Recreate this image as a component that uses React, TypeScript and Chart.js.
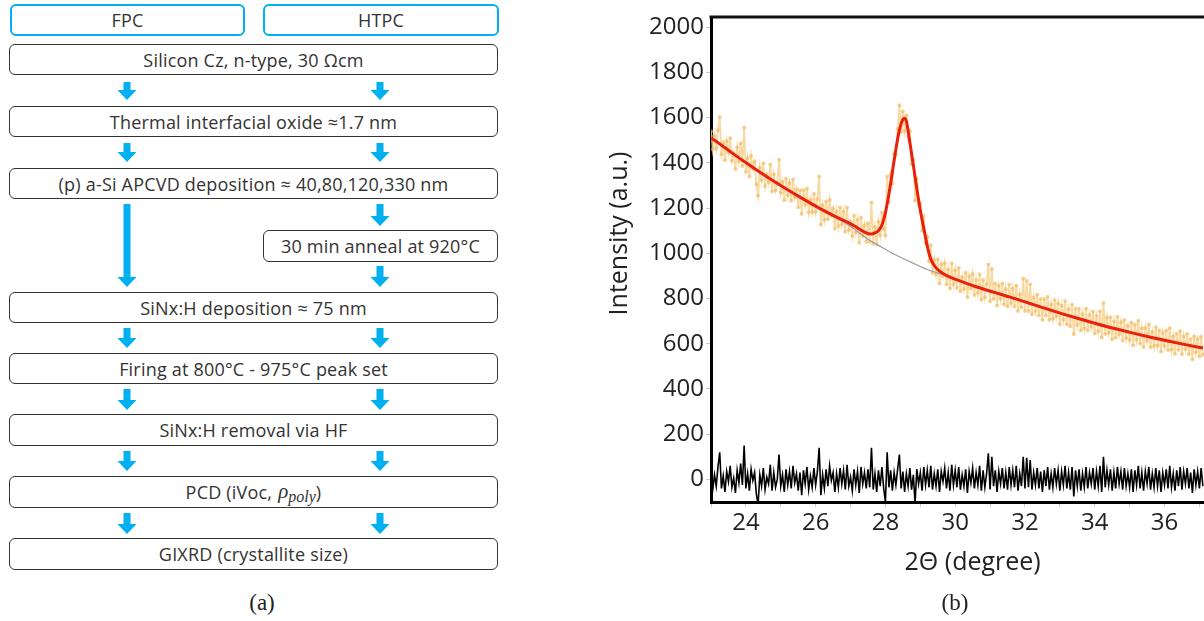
import React, { useEffect, useRef } from 'react';
import { Chart, registerables } from 'chart.js';

Chart.register(...registerables);

// ---------- XRD data (panel b) ----------
const X_START = 22.9;
const X_STEP = 0.05;
const X_MIN = 22.9;
const X_MAX = 37.9;
const Y_MIN = -100;
const Y_MAX = 2045;
const Y_STEP = 200;
const X_STEP_TICK = 1;

// measured counts (orange points)
const RAW_COUNTS = [
  1540, 1460, 1520, 1464, 1544, 1603, 1438, 1487, 1411, 1496,
  1445, 1510, 1409, 1444, 1373, 1468, 1407, 1487, 1386, 1556,
  1360, 1420, 1340, 1430, 1375, 1405, 1304, 1254, 1379, 1324,
  1398, 1298, 1348, 1313, 1393, 1273, 1348, 1279, 1309, 1414,
  1269, 1315, 1235, 1330, 1256, 1311, 1232, 1327, 1248, 1283,
  1204, 1279, 1174, 1280, 1215, 1286, 1181, 1237, 1183, 1263,
  1184, 1239, 1340, 1126, 1212, 1148, 1229, 1150, 1236, 1167,
  1198, 1109, 1185, 1121, 1202, 1128, 1184, 1095, 1202, 1103,
  1139, 1076, 1167, 1092, 1147, 1047, 1157, 1078, 1124, 1051,
  1133, 1051, 1225, 1042, 1115, 1039, 1140, 1080, 1180, 1108,
  1080, 1340, 1227, 1350, 1310, 1440, 1435, 1550, 1655, 1535,
  1627, 1542, 1610, 1515, 1540, 1395, 1410, 1233, 1330, 1217,
  1220, 1100, 1165, 1045, 1072, 965, 1035, 913, 971, 906,
  973, 866, 950, 900, 956, 862, 928, 844, 956, 863,
  925, 847, 935, 832, 894, 842, 914, 806, 898, 845,
  908, 815, 882, 825, 907, 795, 882, 805, 863, 950,
  788, 930, 798, 866, 768, 856, 799, 866, 774, 842,
  765, 862, 780, 843, 765, 858, 745, 818, 760, 888,
  745, 878, 745, 863, 730, 803, 745, 818, 725, 798,
  705, 798, 725, 808, 705, 773, 710, 793, 721, 778,
  686, 768, 706, 789, 686, 754, 677, 774, 642, 755,
  683, 755, 658, 731, 669, 756, 659, 727, 675, 743,
  645, 723, 656, 744, 627, 780, 643, 716, 649, 717,
  620, 698, 626, 719, 642, 695, 613, 706, 625, 678,
  616, 694, 592, 685, 618, 702, 600, 668, 586, 669,
  613, 686, 584, 652, 591, 674, 592, 660, 564, 647,
  590, 659, 572, 670, 574, 632, 555, 644, 572, 656,
  554, 632, 576, 644, 553, 621, 530, 633, 562, 620,
  544, 632, 551,
];

// residual (black trace)
const RESIDUAL = [
  30, -45, 20, -30, 55, 120, -40, 15, -55, 35,
  -10, 60, -35, 5, -60, 40, -15, 70, -25, 150,
  -40, 25, -50, 45, -5, 30, -65, -110, 20, -30,
  50, -45, 10, -20, 65, -50, 30, -35, 0, 110,
  -30, 20, -55, 45, -25, 35, -40, 60, -15, 25,
  -50, 30, -70, 40, -20, 55, -45, 15, -35, 50,
  -25, 35, 140, -70, 20, -40, 45, -30, 60, -5,
  30, -55, 25, -35, 50, -20, 40, -45, 65, -30,
  10, -50, 45, -25, 35, -60, 55, -20, 30, -40,
  45, -35, 140, -45, 25, -55, 40, -30, 55, -40,
  -100, 120, -35, 40, -50, 30, -25, 45, 110, -40,
  35, -55, 25, -30, 50, -45, 20, -105, 45, -20,
  30, -50, 55, -25, 40, -35, 60, -45, 25, -30,
  45, -55, 35, -10, 50, -40, 30, -50, 65, -25,
  40, -35, 55, -45, 20, -30, 45, -60, 35, -15,
  50, -40, 30, -25, 60, -50, 40, -35, 25, 115,
  -45, 100, -30, 40, -55, 35, -20, 50, -40, 30,
  -45, 55, -25, 40, -35, 60, -50, 25, -30, 100,
  -40, 95, -35, 85, -45, 30, -25, 50, -40, 35,
  -55, 40, -30, 55, -45, 25, -35, 50, -20, 40,
  -50, 35, -25, 60, -40, 30, -45, 55, -75, 40,
  -30, 45, -50, 25, -35, 55, -40, 30, -20, 50,
  -45, 35, -30, 60, -55, 100, -35, 40, -25, 45,
  -50, 30, -40, 55, -20, 35, -45, 50, -30, 25,
  -35, 45, -55, 40, -25, 60, -40, 30, -50, 35,
  -20, 55, -45, 25, -35, 50, -30, 40, -55, 30,
  -25, 45, -40, 60, -35, 25, -50, 40, -30, 55,
  -45, 35, -20, 50, -40, 30, -60, 45, -25, 35,
  -40, 50, -30,
];

// fitted profile (red)
const FIT_X = [
  22.9, 23.0, 23.5, 24.0, 24.5, 25.0, 25.5, 26.0, 26.5, 27.0, 27.3, 27.5, 27.6, 27.7,
  27.8, 27.9, 28.0, 28.1, 28.2, 28.3, 28.4, 28.45, 28.5, 28.6, 28.7, 28.8, 28.9, 29.0,
  29.1, 29.2, 29.3, 29.4, 29.6, 29.8, 30.0, 30.5, 31.0, 31.5, 32.0, 32.5, 33.0, 33.5,
  34.0, 34.5, 35.0, 35.5, 36.0, 36.5, 37.0,
];
const FIT_Y = [
  1510, 1500, 1444, 1390, 1338, 1290, 1244, 1200, 1160, 1122, 1094, 1085, 1090, 1100,
  1125, 1180, 1262, 1360, 1460, 1545, 1592, 1597, 1585, 1490, 1390, 1285, 1190, 1110,
  1032, 975, 946, 928, 906, 891, 880, 852, 828, 805, 780, 755, 731, 708,
  686, 666, 647, 629, 612, 596, 581,
];

// background (grey)
const BASE_X = [
  22.9, 23.5, 24.5, 25.5, 26.0, 26.5, 27.0, 27.4, 27.7, 28.2, 28.6, 29.1, 29.6, 30.0,
  30.5, 31.0, 32.0, 33.0, 34.0, 35.0, 36.0, 37.0,
];
const BASE_Y = [
  1510, 1444, 1338, 1244, 1200, 1157, 1108, 1062, 1035, 992, 963, 928, 903, 880,
  852, 828, 780, 731, 686, 647, 612, 581,
];

const Y_TITLE = 'Intensity (a.u.)';
const X_TITLE = '2\u0398 (degree)';

// ---------- flowchart text (panel a) ----------
const FLOW_HEADERS = ['FPC', 'HTPC'];
const FLOW_STEPS = [
  'Silicon Cz, n-type, 30 \u03A9cm',
  'Thermal interfacial oxide \u22481.7 nm',
  '(p) a-Si APCVD deposition \u2248 40,80,120,330 nm',
  '30 min anneal at 920\u00B0C',
  'SiNx:H deposition \u2248 75 nm',
  'Firing at 800\u00B0C - 975\u00B0C peak set',
  'SiNx:H removal via HF',
  'PCD (iVoc,',
  'GIXRD (crystallite size)',
];

const BLUE = '#00b0f0';
const TEXT_FONT = '"Open Sans", "DejaVu Sans", sans-serif';

function Box(props: { x: number; y: number; w: number; h: number; blue?: boolean; children: React.ReactNode }) {
  const { x, y, w, h, blue, children } = props;
  return (
    <div
      style={{
        position: 'absolute',
        left: x,
        top: y,
        width: w,
        height: h,
        boxSizing: 'border-box',
        border: blue ? `2px solid ${BLUE}` : '1px solid #333',
        borderRadius: 6,
        display: 'flex',
        alignItems: 'center',
        justifyContent: 'center',
        fontFamily: TEXT_FONT,
        fontSize: 18,
        letterSpacing: 0.2,
        color: '#333',
        background: '#fff',
        whiteSpace: 'nowrap',
      }}
    >
      {children}
    </div>
  );
}

function Arrow(props: { cx: number; y1: number; y2: number }) {
  const { cx, y1, y2 } = props;
  const h = y2 - y1;
  const head = 10;
  const pts = `6.5,0 13.5,0 13.5,${h - head} 19.5,${h - head} 10,${h} 0.5,${h - head} 6.5,${h - head}`;
  return (
    <svg style={{ position: 'absolute', left: cx - 10, top: y1 }} width={20} height={h}>
      <polygon points={pts} fill={BLUE} />
    </svg>
  );
}

function Flowchart() {
  const L = 127;
  const R = 380;
  return (
    <>
      <Box x={10} y={4} w={235} h={32} blue>{FLOW_HEADERS[0]}</Box>
      <Box x={263} y={4} w={236} h={32} blue>{FLOW_HEADERS[1]}</Box>
      <Box x={9} y={44} w={489} h={31}>{FLOW_STEPS[0]}</Box>
      <Arrow cx={L} y1={82} y2={100} />
      <Arrow cx={R} y1={82} y2={100} />
      <Box x={9} y={106} w={489} h={31}>{FLOW_STEPS[1]}</Box>
      <Arrow cx={L} y1={143} y2={162} />
      <Arrow cx={R} y1={143} y2={162} />
      <Box x={9} y={168} w={489} h={31}>{FLOW_STEPS[2]}</Box>
      <Arrow cx={L} y1={204} y2={287} />
      <Arrow cx={R} y1={204} y2={226} />
      <Box x={263} y={230} w={235} h={32}>{FLOW_STEPS[3]}</Box>
      <Arrow cx={R} y1={266} y2={287} />
      <Box x={9} y={292} w={489} h={31}>{FLOW_STEPS[4]}</Box>
      <Arrow cx={L} y1={328} y2={348} />
      <Arrow cx={R} y1={328} y2={348} />
      <Box x={9} y={353} w={489} h={31}>{FLOW_STEPS[5]}</Box>
      <Arrow cx={L} y1={389} y2={410} />
      <Arrow cx={R} y1={389} y2={410} />
      <Box x={9} y={414} w={489} h={32}>{FLOW_STEPS[6]}</Box>
      <Arrow cx={L} y1={451} y2={471} />
      <Arrow cx={R} y1={451} y2={471} />
      <Box x={9} y={476} w={489} h={32}>
        <span>{FLOW_STEPS[7]}</span>
        <span style={{ marginLeft: 6, fontFamily: '"Liberation Serif", serif', fontStyle: 'italic', fontSize: 21, letterSpacing: 0 }}>
          {'\u03C1'}
          <sub style={{ fontSize: 16, verticalAlign: -4 }}>poly</sub>
        </span>
        <span>)</span>
      </Box>
      <Arrow cx={L} y1={513} y2={534} />
      <Arrow cx={R} y1={513} y2={534} />
      <Box x={9} y={538} w={489} h={32}>{FLOW_STEPS[8]}</Box>
      <div
        style={{
          position: 'absolute', left: 232, width: 60, top: 589, textAlign: 'center',
          fontFamily: '"Liberation Serif", "Times New Roman", serif', fontSize: 23, lineHeight: '28px', color: '#222',
        }}
      >
        (a)
      </div>
    </>
  );
}

function XrdChart() {
  const ref = useRef<HTMLCanvasElement>(null);
  useEffect(() => {
    if (!ref.current) return;
    const raw = RAW_COUNTS.map((y, i) => ({ x: +(X_START + i * X_STEP).toFixed(2), y }));
    const res = RESIDUAL.map((y, i) => ({ x: +(X_START + i * X_STEP).toFixed(2), y }));
    const fit = FIT_X.map((x, i) => ({ x, y: FIT_Y[i] }));
    const base = BASE_X.map((x, i) => ({ x, y: BASE_Y[i] }));

    const framePlugin = {
      id: 'topFrame',
      afterDraw(chart: any) {
        const { ctx, chartArea } = chart;
        ctx.save();
        ctx.strokeStyle = '#111';
        ctx.lineWidth = 3;
        ctx.beginPath();
        ctx.moveTo(chartArea.left - 1.5, chartArea.top);
        ctx.lineTo(chartArea.right, chartArea.top);
        ctx.stroke();
        ctx.restore();
      },
    };
    const yTitlePlugin = {
      id: 'yTitle',
      afterDraw(chart: any) {
        const { ctx, chartArea } = chart;
        ctx.save();
        ctx.translate(60, (chartArea.top + chartArea.bottom) / 2 - 26);
        ctx.rotate(-Math.PI / 2);
        ctx.font = '25px "Open Sans"';
        ctx.fillStyle = '#222';
        ctx.textAlign = 'center';
        ctx.textBaseline = 'middle';
        ctx.fillText(Y_TITLE, 0, 0);
        ctx.restore();
      },
    };

    const chart = new Chart(ref.current, {
      type: 'line',
      data: {
        datasets: [
          {
            label: 'fit',
            data: fit,
            borderColor: '#e8200c',
            borderWidth: 3,
            pointRadius: 0,
            cubicInterpolationMode: 'monotone',
          },
          {
            label: 'background',
            data: base,
            borderColor: '#9c9ca8',
            borderWidth: 1.2,
            pointRadius: 0,
            cubicInterpolationMode: 'monotone',
          },
          {
            label: 'measured',
            data: raw,
            borderColor: 'rgba(247,210,145,0.85)',
            borderWidth: 1.8,
            pointRadius: 2,
            pointBorderWidth: 0,
            pointBackgroundColor: 'rgba(240,188,95,0.65)',
          },
          {
            label: 'residual',
            data: res,
            borderColor: '#000',
            borderWidth: 1.6,
            pointRadius: 0,
          },
        ],
      },
      options: {
        animation: false,
        responsive: false,
        devicePixelRatio: 1,
        layout: { padding: { top: 17, right: 10, left: 0, bottom: 0 } },
        plugins: { legend: { display: false }, tooltip: { enabled: false } },
        scales: {
          x: {
            type: 'linear',
            min: X_MIN,
            max: X_MAX,
            afterFit: (s: any) => { s.height = 119; },
            grid: { drawOnChartArea: false, drawTicks: true, tickLength: 5, color: '#c8c8c8' },
            border: { display: true, color: '#000', width: 3 },
            ticks: {
              stepSize: X_STEP_TICK,
              includeBounds: false,
              autoSkip: false,
              maxRotation: 0,
              padding: 2,
              color: '#222',
              font: { family: '"Open Sans"', size: 24 },
              callback: (v: any) => (Math.round(Number(v)) % 2 === 0 ? String(Math.round(Number(v))) : ''),
            },
            title: {
              display: true,
              text: X_TITLE,
              color: '#222',
              font: { family: '"Open Sans"', size: 25 },
              padding: { top: 0, bottom: 43 },
            },
          },
          y: {
            min: Y_MIN,
            max: Y_MAX,
            afterFit: (s: any) => { s.width = 151; },
            grid: { drawOnChartArea: false, drawTicks: true, tickLength: 5, color: '#c8c8c8' },
            border: { display: true, color: '#000', width: 3 },
            ticks: {
              stepSize: Y_STEP,
              includeBounds: false,
              padding: 2,
              color: '#222',
              font: { family: '"Open Sans"', size: 24 },
              callback: (v: any) => String(Math.round(Number(v))),
            },
          },
        },
      },
      plugins: [framePlugin, yTitlePlugin],
    } as any);
    let alive = true;
    if ((document as any).fonts && (document as any).fonts.ready) {
      (document as any).fonts.ready.then(() => { if (alive) chart.update(); });
    }
    return () => { alive = false; chart.destroy(); };
  }, []);
  return (
    <canvas
      ref={ref}
      width={690}
      height={621}
      style={{ position: 'absolute', left: 560, top: 0, width: 690, height: 621 }}
    />
  );
}

export default function App() {
  return (
    <div
      style={{
        position: 'absolute', left: 0, top: 0, width: 1204, height: 621,
        overflow: 'hidden', background: '#fff',
      }}
    >
      <Flowchart />
      <XrdChart />
      <div
        style={{
          position: 'absolute', left: 925, width: 60, top: 589, textAlign: 'center',
          fontFamily: '"Liberation Serif", "Times New Roman", serif', fontSize: 23, lineHeight: '28px', color: '#222',
        }}
      >
        (b)
      </div>
    </div>
  );
}
